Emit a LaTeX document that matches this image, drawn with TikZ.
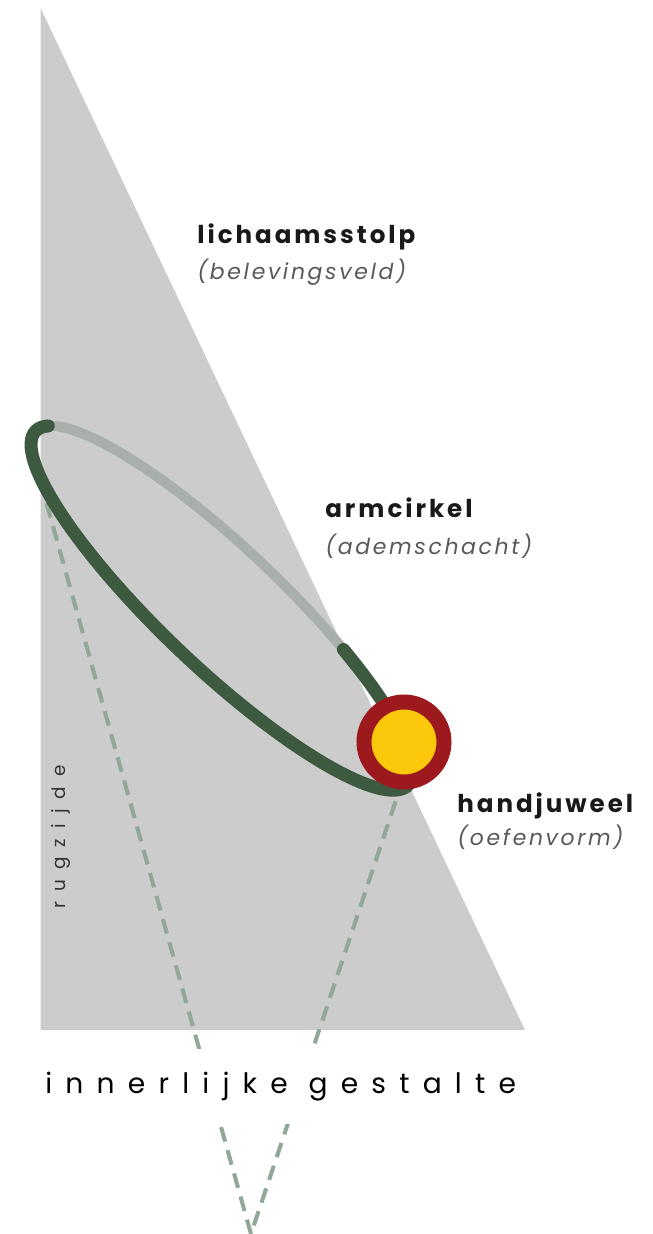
\documentclass[tikz,border=0pt]{standalone}
\usepackage{fontspec}
\setmainfont{Poppins}
\usepackage{xcolor}
\usepackage{tikz}
\usetikzlibrary{calc, positioning}

\definecolor{stolpgrijs}{HTML}{CCCCCC}
\definecolor{armgroen}{HTML}{3D5A40}
\definecolor{armgrijs}{HTML}{A9AFAB}
\definecolor{lijngroen}{HTML}{91A797}
\definecolor{juweelrood}{HTML}{9C1A1D}
\definecolor{juweelgeel}{HTML}{FCC80B}

\tikzset{
    titel/.style={anchor=base west, inner sep=0pt, text=black!90,
        font=\fontsize{14}{16}\selectfont\bfseries\addfontfeatures{LetterSpace=12}},
    ondertitel/.style={anchor=base west, inner sep=0pt, text=black!65,
        font=\fontsize{12.5}{15}\selectfont\itshape\addfontfeatures{LetterSpace=12}},
    stippel/.style={lijngroen, line width=2.3pt, dash pattern=on 0.3cm off 0.18cm},
}

\begin{document}
\begin{tikzpicture}
    \useasboundingbox (0,0) rectangle (13.06,-24.68);

    % lichaamsstolp
    \fill[stolpgrijs] (0.81,-0.16) -- (10.5,-20.6) -- (0.81,-20.6) -- cycle;

    % stippellijnen naar beneden
    \coordinate (apex) at (5.02,-24.68);
    \coordinate (rugpunt) at (0.8,-9.6);
    \coordinate (pols) at (8.02,-15.7);
    \draw[stippel] (rugpunt) -- (apex) -- (pols);

    \node[anchor=base west, inner xsep=0pt, inner ysep=0.46cm, fill=white,
        font=\fontsize{16}{18}\selectfont\addfontfeatures{LetterSpace=47}]
        (gestalte) at (0.9,-21.86) {innerlijke gestalte};

    % armcirkel
    \begin{scope}[shift={(4.44,-12.16)}, rotate=-43.5]
        \draw[armgrijs, line width=5.7pt]
            (63:5.14 and 1.2) arc[start angle=63, end angle=168, x radius=5.14, y radius=1.2];
        \draw[armgroen, line width=7.4pt, line cap=round]
            (168:5.14 and 1.2) arc[start angle=168, end angle=423, x radius=5.14, y radius=1.2];
    \end{scope}

    % handjuweel
    \node[circle, inner sep=0pt, minimum size=1.6cm, line width=0.3cm,
        draw=juweelrood, fill=juweelgeel] (juweel) at (8.08,-14.84) {};

    % teksten
    \node[titel] (stolp) at (3.94,-4.86) {lichaamsstolp};
    \node[ondertitel] (beleving) at (3.94,-5.58) {(belevingsveld)};
    \node[titel] (arm) at (6.5,-10.34) {armcirkel};
    \node[ondertitel] (adem) at (6.5,-11.08) {(ademschacht)};
    \node[titel] (hand) at (9.14,-16.24) {handjuweel};
    \node[ondertitel] (oefen) at (9.14,-16.9) {(oefenvorm)};
    \node[rotate=90, inner sep=0pt, text=black!80,
        font=\fontsize{10.5}{12}\selectfont\addfontfeatures{LetterSpace=55}]
        (rug) at (1.21,-16.74) {rugzijde};
\end{tikzpicture}
\end{document}
